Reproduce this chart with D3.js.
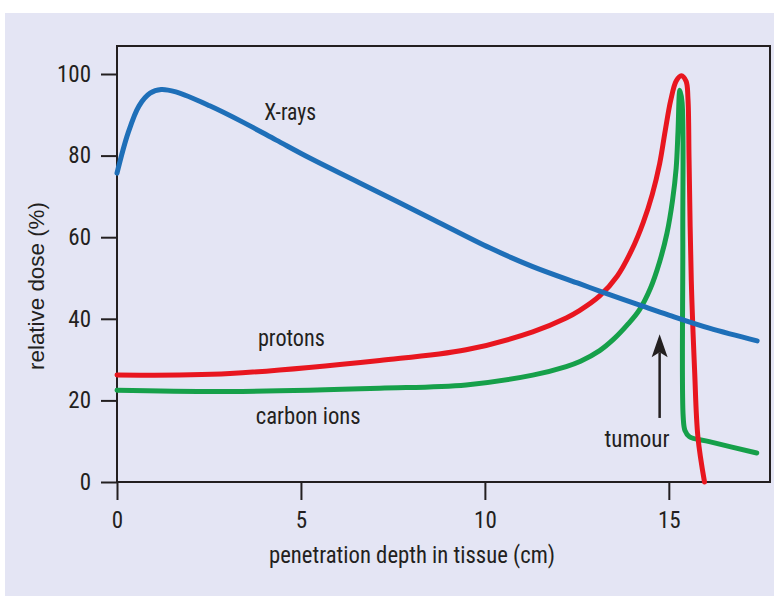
<!DOCTYPE html>
<html>
<head>
<meta charset="utf-8">
<script src="https://cdn.jsdelivr.net/npm/d3@7"></script>
<style>
  html, body { margin: 0; padding: 0; background: #ffffff; }
  svg { display: block; }
</style>
</head>
<body>
<svg id="chart" width="774" height="596"></svg>
<script>
// ---------- data ----------
const xTicks = [0, 5, 10, 15];
const yTicks = [0, 20, 40, 60, 80, 100];

const xrayDepth = [0, 0.3, 0.6, 0.9, 1.2, 1.6, 2.52, 3.42, 4.33, 5.24, 6.6, 8.6, 10.13, 11.3, 12.57, 13.12, 14.29, 15.0, 16.1, 17.4];
const xrayDose  = [75.7, 85.5, 92.2, 95.3, 96.2, 95.6, 92.2, 88.2, 83.8, 79.4, 73.3, 64.3, 57.4, 52.8, 48.6, 46.8, 43.1, 40.9, 37.7, 34.6];

const protonDepth = [0, 3.07, 7.14, 9.49, 11.3, 12.21, 12.57, 13.12, 13.6, 14.0, 14.3, 14.55, 14.75, 14.9, 15.05, 15.2, 15.34, 15.47, 15.52, 15.55, 15.61, 15.7, 15.79, 15.97];
const protonDose  = [26.2, 26.6, 29.8, 32.4, 36.8, 40.2, 42.0, 45.6, 50.5, 57, 63.5, 70.5, 78, 86, 93.5, 98.3, 99.6, 98.2, 94, 79, 49.5, 27.5, 11.1, 0];

const carbonDepth = [0, 3.07, 7.14, 9.49, 11.3, 12.21, 12.6, 13.12, 13.5, 13.9, 14.2, 14.5, 14.75, 14.95, 15.1, 15.2, 15.25, 15.3, 15.36, 15.38, 15.39, 15.44, 15.56, 16.1, 17.39];
const carbonDose  = [22.5, 22.2, 23, 23.8, 26.2, 28.3, 29.6, 32.2, 35, 38.8, 42.2, 47.5, 54, 61, 69, 77, 86, 96, 93, 60, 16, 12.6, 11.1, 9.9, 7.1];

const labels = [
  { text: "X-rays",      depth: 4.0,  dose: 88.8, width: 52 },
  { text: "protons",     depth: 3.83, dose: 33.3, width: 67 },
  { text: "carbon ions", depth: 3.77, dose: 14.2, width: 105 },
  { text: "tumour",      depth: 13.25, dose: 8.6, width: 65 }
];
const arrow = { depth: 14.75, from: 15.7, to: 36.2 };

const xTitle = "penetration depth in tissue (cm)";
const yTitle = "relative dose (%)";

// ---------- layout ----------
const W = 774, H = 596;
const frame = { left: 117, right: 770, top: 46, bottom: 482 };
const bg = "#e4e5f4";
const ink = "#231f20";
const narrow = "'Liberation Sans Narrow', 'Roboto Condensed', 'Liberation Sans', Arial, sans-serif";
const regular = "'Liberation Sans', Arial, sans-serif";

const svg = d3.select("#chart");
svg.append("rect").attr("x", 5).attr("y", 13).attr("width", W - 5).attr("height", H - 13).attr("fill", bg);

const x = d3.scaleLinear().domain([0, 17.75]).range([frame.left, frame.right]);
const y = d3.scaleLinear().domain([0, 100]).range([frame.bottom, 74]);

// frame
svg.append("rect")
  .attr("x", frame.left).attr("y", frame.top)
  .attr("width", frame.right - frame.left).attr("height", frame.bottom - frame.top)
  .attr("fill", "none").attr("stroke", ink).attr("stroke-width", 2);

// axes
const gx = svg.append("g").attr("transform", `translate(0,${frame.bottom})`)
  .call(d3.axisBottom(x).tickValues(xTicks).tickSize(18).tickPadding(12).tickFormat(d3.format("d")));
const gy = svg.append("g").attr("transform", `translate(${frame.left},0)`)
  .call(d3.axisLeft(y).tickValues(yTicks).tickSize(16).tickPadding(10).tickFormat(d3.format("d")));
[gx, gy].forEach(g => {
  g.select(".domain").remove();
  g.selectAll(".tick line").attr("stroke", ink).attr("stroke-width", 2);
  g.selectAll(".tick text").attr("fill", ink).style("font-family", narrow).style("font-size", "23px");
});

// curves
const line = d3.line()
  .x(d => x(d[0])).y(d => y(d[1]))
  .curve(d3.curveCatmullRom.alpha(0.5));
const series = [
  { depth: xrayDepth,   dose: xrayDose,   color: "#1e6fb8" },
  { depth: protonDepth, dose: protonDose, color: "#e8161f" },
  { depth: carbonDepth, dose: carbonDose, color: "#16a04a" }
];
// draw order: green, red, blue (blue over)
[series[2], series[1], series[0]].forEach(s => {
  svg.append("path")
    .datum(s.depth.map((d, i) => [d, s.dose[i]]))
    .attr("d", line)
    .attr("fill", "none")
    .attr("stroke", s.color)
    .attr("stroke-width", 5)
    .attr("stroke-linecap", "round")
    .attr("stroke-linejoin", "round");
});

// labels
svg.selectAll("text.lbl").data(labels).enter().append("text")
  .attr("class", "lbl")
  .attr("x", d => x(d.depth)).attr("y", d => y(d.dose))
  .attr("textLength", d => d.width).attr("lengthAdjust", "spacingAndGlyphs")
  .style("font-family", narrow).style("font-size", "23px").attr("fill", ink)
  .text(d => d.text);

// arrow
const ax = x(arrow.depth);
svg.append("line")
  .attr("x1", ax).attr("x2", ax)
  .attr("y1", y(arrow.from)).attr("y2", y(arrow.to) + 18)
  .attr("stroke", ink).attr("stroke-width", 2.5);
svg.append("path")
  .attr("d", `M${ax},${y(arrow.to)} L${ax - 8},${y(arrow.to) + 23} L${ax},${y(arrow.to) + 18} L${ax + 8},${y(arrow.to) + 23} Z`)
  .attr("fill", ink);

// titles
svg.append("text")
  .attr("x", 412).attr("y", 563).attr("text-anchor", "middle")
  .attr("textLength", 286).attr("lengthAdjust", "spacingAndGlyphs")
  .style("font-family", narrow).style("font-size", "23px").attr("fill", ink)
  .text(xTitle);
svg.append("text")
  .attr("transform", "translate(44,286) rotate(-90)").attr("text-anchor", "middle")
  .attr("textLength", 168).attr("lengthAdjust", "spacingAndGlyphs")
  .style("font-family", regular).style("font-size", "22px").attr("fill", ink)
  .text(yTitle);
</script>
</body>
</html>
